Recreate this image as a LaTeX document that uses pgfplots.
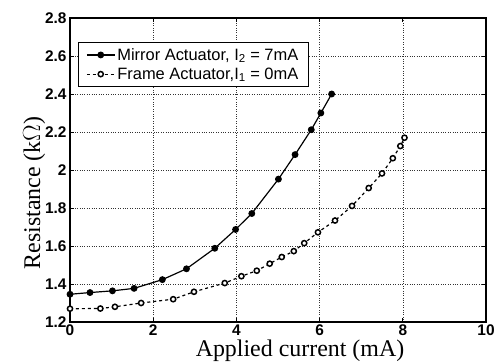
\documentclass[border=0pt]{standalone}
\usepackage{pgfplots}
\pgfplotsset{compat=1.18}
\usepackage{fontspec}
\setmainfont{Liberation Serif}
\setsansfont{Liberation Sans}
\begin{document}
\begin{tikzpicture}[x=1bp,y=1bp]
\path[use as bounding box] (0,0) rectangle (497,361);
\begin{axis}[
  at={(70bp,39bp)}, anchor=south west,
  scale only axis, width=416bp, height=304bp,
  xmin=0, xmax=10, ymin=1.2, ymax=2.8,
  xtick={0,2,...,10}, ytick={1.2,1.4,...,2.8},
  grid=major, major grid style={black!80, dotted, line width=0.5pt},
  axis line style={line width=1.2pt}, tick style={black, line width=0.7pt},
  tick align=inside, major tick length=4bp,
  /pgf/number format/assume math mode=true,
  tick label style={font=\sffamily\bfseries\fontsize{15.5}{17}\selectfont},
  xticklabel style={yshift=1bp},
  yticklabel style={xshift=0bp},
  xlabel={Applied current (mA)}, ylabel={Resistance (k$\Omega$)},
  label style={font=\fontsize{24}{27}\selectfont},
  xlabel style={xshift=22bp, yshift=2bp},
  ylabel style={xshift=-23bp, yshift=-7bp},
  legend style={at={(0.019,0.921)}, anchor=north west, draw=black, line width=0.5pt,
    font=\sffamily\fontsize{16.5}{18}\selectfont, inner xsep=8bp, inner ysep=4bp, row sep=2bp,
    cells={anchor=west}},
  legend image code/.code={
    \draw[mark repeat=2,mark phase=2,#1] plot coordinates {(0bp,0bp) (14bp,0bp) (28bp,0bp)};},
  legend image post style={line width=1.2pt},
]
\addplot[black, line width=1.2pt, mark=*, mark size=2.8bp, mark options={solid}] coordinates {
(0,1.346) (0.48,1.355) (1.02,1.364) (1.54,1.377) (2.22,1.423) (2.8,1.48)
(3.48,1.588) (3.98,1.687) (4.37,1.771) (5.01,1.952) (5.41,2.081) (5.8,2.212)
(6.03,2.30) (6.29,2.40)};
\addlegendentry{Mirror Actuator, I\textsubscript{2} = 7mA}
\addplot[black, line width=1.2pt, dashed, mark=*, mark size=2.6bp, mark options={solid, fill=white, line width=1.5pt}] coordinates {
(0,1.27) (0.73,1.271) (1.08,1.28) (1.71,1.30) (2.48,1.32) (2.98,1.359)
(3.72,1.405) (4.12,1.441) (4.49,1.47) (4.8,1.507) (5.09,1.542) (5.38,1.573)
(5.63,1.615) (5.96,1.672) (6.37,1.734) (6.78,1.811) (7.18,1.905) (7.5,1.982)
(7.76,2.062) (7.94,2.126) (8.04,2.17)};
\addlegendentry{Frame Actuator,I\textsubscript{1} = 0mA}
\end{axis}
\end{tikzpicture}
\end{document}
